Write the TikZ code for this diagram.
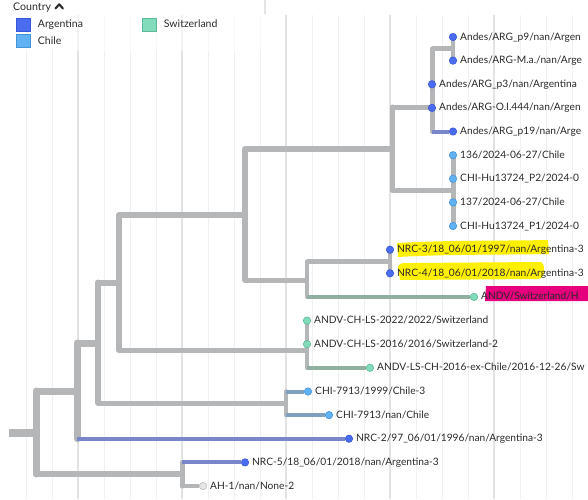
\documentclass[tikz,border=0pt]{standalone}
\usepackage{fontspec}
\setmainfont{Lato}

\definecolor{brgray}{HTML}{B4B6B8}
\definecolor{gridmin}{HTML}{F0F0F0}
\definecolor{gridmaj}{HTML}{E3E3E3}
\definecolor{argfill}{HTML}{4A6CF0}
\definecolor{argline}{HTML}{3856D6}
\definecolor{argbr}{HTML}{7986C9}
\definecolor{chlfill}{HTML}{60B2F4}
\definecolor{chlline}{HTML}{4593D8}
\definecolor{chlbr}{HTML}{7FA0BF}
\definecolor{swifill}{HTML}{82DCBB}
\definecolor{swiline}{HTML}{5DB995}
\definecolor{swibr}{HTML}{90AFA0}
\definecolor{nonefill}{HTML}{E6E6E6}
\definecolor{noneline}{HTML}{BDBDBD}
\definecolor{txt}{HTML}{2A2A2A}
\definecolor{marker}{HTML}{FFF000}
\definecolor{pinkmark}{HTML}{E6007E}

\pgfdeclarelayer{grid}
\pgfdeclarelayer{back}
\pgfsetlayers{grid,back,main}

\tikzset{
  trunk/.style={draw=brgray, line width=7pt},
  bigbr/.style={draw=brgray, line width=6pt},
  midbr/.style={draw=brgray, line width=5pt},
  thinbr/.style={draw=brgray, line width=4.5pt},
  vert/.style={line cap=round},
  argleaf/.style={draw=argbr, line width=4pt},
  chileaf/.style={draw=chlbr, line width=4pt},
  swileaf/.style={draw=swibr, line width=4pt},
  grayleaf/.style={draw=brgray, line width=4pt},
  tip/.style={circle, inner sep=0pt, minimum size=7.4pt, line width=.6pt},
  argtip/.style={tip, fill=argfill, draw=argline},
  chltip/.style={tip, fill=chlfill, draw=chlline},
  switip/.style={tip, fill=swifill, draw=swiline},
  nonetip/.style={tip, fill=nonefill, draw=noneline},
  legsq/.style={rectangle, inner sep=0pt, minimum size=13.5pt, line width=1pt},
  tiplab/.style={font=\fontsize{10.2}{12}\selectfont, text=txt, inner sep=3pt,
    text height=8pt, text depth=2pt},
}

\begin{document}
\begin{tikzpicture}[x=1pt, y=-1pt, every label/.style={tiplab}]
\useasboundingbox (0,0) rectangle (588,499);
\clip (0,0) rectangle (588,499);

% grid
\begin{pgfonlayer}{grid}
  \foreach \gx in {26,52,...,572} \draw[gridmin, line width=1pt] (\gx,15) -- (\gx,499);
  \foreach \gx in {78,182,...,494} \draw[gridmaj, line width=1.6pt] (\gx,15) -- (\gx,499);
  \fill[white, opacity=.6] (0,15) rectangle (262,51);
  \draw[gridmaj, line width=1.2pt] (265,0) -- (265,14);
\end{pgfonlayer}

% inner nodes of the tree
\coordinate (stub) at (9,432.5);
\coordinate (root) at (36,432.5);
\coordinate (n77) at (77,391);
\coordinate (nLow) at (182,474);
\coordinate (n98) at (98,343);
\coordinate (n119) at (119,282.5);
\coordinate (nCHI) at (286,403);
\coordinate (n245) at (245,215);
\coordinate (nSw) at (307,350);
\coordinate (nAC) at (392,149);
\coordinate (nNRC) at (307,280);
\coordinate (nArg) at (432,107);
\coordinate (nA2) at (453,48.8);
\coordinate (nChile) at (453,190.5);
\coordinate (nNRC34) at (390,261.5);

% tips
\node (p9) [argtip, label=right:{Andes/ARG\_p9/nan/Argen}] at (453,37) {};
\node (ma) [argtip, label=right:{Andes/ARG-M.a./nan/Arge}] at (453,60.6) {};
\node (p3) [argtip, label=right:{Andes/ARG\_p3/nan/Argentina}] at (432,84.3) {};
\node (oi) [argtip, label=right:{Andes/ARG-O.I.444/nan/Argen}] at (432,107.9) {};
\node (p19) [argtip, label=right:{Andes/ARG\_p19/nan/Arge}] at (453,131.5) {};
\node (c136) [chltip, label=right:{136/2024-06-27/Chile}] at (453,155.2) {};
\node (hu2) [chltip, label=right:{CHI-Hu13724\_P2/2024-0}] at (453,178.8) {};
\node (c137) [chltip, label=right:{137/2024-06-27/Chile}] at (453,202.4) {};
\node (hu1) [chltip, label=right:{CHI-Hu13724\_P1/2024-0}] at (453,226) {};
\node (nrc3) [argtip, label=right:{NRC-3/18\_06/01/1997/nan/Argentina-3}] at (390,249.7) {};
\node (nrc4) [argtip, label=right:{NRC-4/18\_06/01/2018/nan/Argentina-3}] at (390,273.3) {};
\node (andv) [switip, label=right:{ANDV/Switzerland/H}] at (474,296.9) {};
\node (ls22) [switip, label=right:{ANDV-CH-LS-2022/2022/Switzerland}] at (307,320.6) {};
\node (ls16) [switip, label=right:{ANDV-CH-LS-2016/2016/Switzerland-2}] at (307,344.2) {};
\node (exchile) [switip, label=right:{ANDV-LS-CH-2016-ex-Chile/2016-12-26/Sw}] at (370,367.8) {};
\node (chi99) [chltip, label=right:{CHI-7913/1999/Chile-3}] at (308,391.5) {};
\node (chinan) [chltip, label=right:{CHI-7913/nan/Chile}] at (329,415.1) {};
\node (nrc2) [argtip, label=right:{NRC-2/97\_06/01/1996/nan/Argentina-3}] at (349,438.7) {};
\node (nrc5) [argtip, label=right:{NRC-5/18\_06/01/2018/nan/Argentina-3}] at (245,462.4) {};
\node (ah1) [nonetip, label=right:{AH-1/nan/None-2}] at (203,486) {};

\begin{pgfonlayer}{back}
  % marker scribbles
  \fill[marker] (397,243) .. controls (450,240) and (500,241) .. (548,240)
    -- (549,254) .. controls (500,255) and (450,254) .. (398,257) -- cycle;
  \fill[marker] (398,267) .. controls (400,263) .. (412,263) -- (540,262)
    .. controls (546,262) and (546,279) .. (538,279) -- (400,280) -- cycle;
  \fill[pinkmark] (486,286) -- (588,286) -- (588,301) -- (485,301) -- cycle;
  % branches
  \draw[trunk, line width=8pt] (stub) -- (root);
  \foreach \p/\a/\b/\s in {root/n77/nLow/trunk, n77/n98/nrc2/trunk, n98/n119/nCHI/bigbr,
      n119/n245/nSw/bigbr, n245/nAC/nNRC/bigbr, nAC/nArg/nChile/midbr, nArg/nA2/p19/midbr,
      nA2/p9/ma/thinbr, nChile/c136/hu1/midbr, nNRC/nNRC34/andv/thinbr,
      nNRC34/nrc3/nrc4/thinbr, nSw/ls22/exchile/thinbr, nCHI/chi99/chinan/thinbr,
      nLow/nrc5/ah1/midbr}
    \draw[\s, vert] (\p |- \a) -- (\p |- \b);
  \foreach \p/\c/\s in {root/n77/trunk, root/nLow/bigbr, n77/n98/trunk, n77/nrc2/argleaf,
      n98/n119/bigbr, n98/nCHI/midbr, n119/n245/bigbr, n119/nSw/midbr, n245/nAC/bigbr,
      n245/nNRC/midbr, nAC/nArg/midbr, nAC/nChile/midbr, nArg/nA2/midbr, nArg/p19/argleaf,
      nNRC/nNRC34/thinbr, nNRC/andv/swileaf, nSw/exchile/swileaf, nCHI/chi99/chileaf,
      nCHI/chinan/chileaf, nLow/nrc5/argleaf, nLow/ah1/grayleaf}
    \draw[\s] (\p |- \c) -- (\c);
\end{pgfonlayer}

% legend
\node (legtitle) [anchor=base west, inner sep=0pt, text=txt, font=\fontsize{10.6}{13}\selectfont] at (13,10.7) {Country};
\draw[txt, line width=2.1pt, line cap=round, line join=round] (55.5,8.5) -- (59.2,4.3) -- (62.9,8.5);
\begin{scope}[label distance=7pt, every label/.style={tiplab, inner sep=0pt, font=\fontsize{10.5}{12}\selectfont}]
  \node (kArg) [legsq, fill=argfill, draw=argline, label=right:Argentina] at (23.5,24.8) {};
  \node (kChl) [legsq, fill=chlfill, draw=chlline, label=right:Chile] at (23.5,41.2) {};
  \node (kSwi) [legsq, fill=swifill, draw=swiline, label=right:Switzerland] at (149.5,24.8) {};
\end{scope}
\end{tikzpicture}
\end{document}
